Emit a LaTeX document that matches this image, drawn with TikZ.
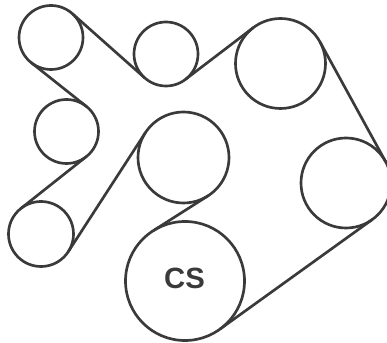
\documentclass[tikz,border=0pt]{standalone}
\usepackage{fontspec}
\setsansfont{Liberation Sans}
\definecolor{beltgray}{HTML}{3A3A3A}
\tikzset{
    pulley/.style = {draw=beltgray, circle, line width=.08cm, inner sep=0pt, outer sep=0pt, minimum size=#1},
    belt/.style = {draw=beltgray, line width=.08cm}
}
\begin{document}
\begin{tikzpicture}[x=.03cm, y=-.03cm]
    \useasboundingbox (0,0) rectangle (387,343);
    \node[pulley=1.92cm] (p1) at (51,37.5) {};
    \node[pulley=1.92cm] (p2) at (166,54) {};
    \node[pulley=2.7cm] (p3) at (280.5,63.5) {};
    \node[pulley=1.92cm] (p4) at (66.5,131.5) {};
    \node[pulley=2.73cm] (p5) at (183.5,157.5) {};
    \node[pulley=2.7cm] (p6) at (346,183) {};
    \node[pulley=1.95cm] (p7) at (41,234) {};
    \node[pulley=3.57cm] (cs) at (185,281) {};
    \node[text=beltgray, font=\sffamily\bfseries\fontsize{25}{25}\selectfont] (cslabel) at (184.5,278) {CS};
    \draw [belt] (p1.48.4) -- (p2.228.4);
    \draw [belt] (p2.-52.6) -- (p3.127.4);
    \draw [belt] (p3.28.7) -- (p6.28.7);
    \draw [belt] (p6.-54.7) -- (cs.-54.7);
    \draw [belt] (cs.122.2) -- (p5.-57.8);
    \draw [belt] (p5.147) -- (p7.-33);
    \draw [belt] (p7.128.4) -- (p4.-51.6);
    \draw [belt] (p4.51.6) -- (p1.231.6);
\end{tikzpicture}
\end{document}
